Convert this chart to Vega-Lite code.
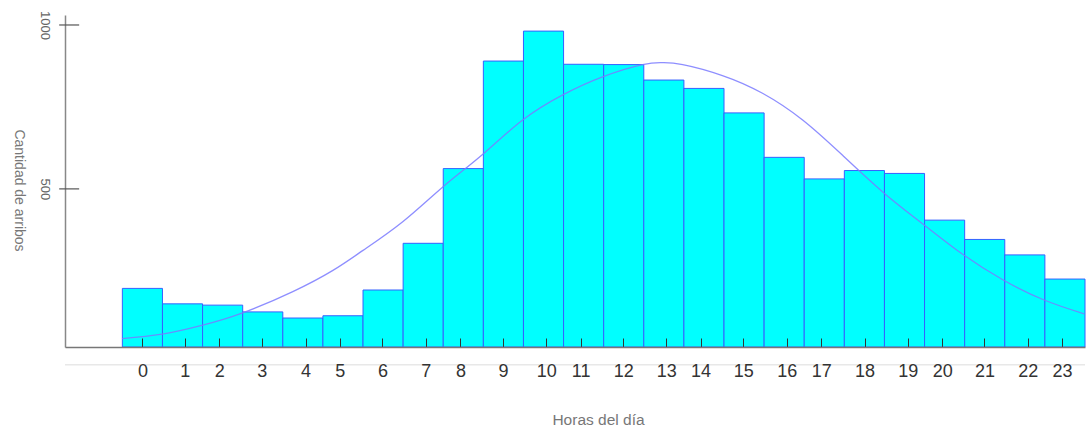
{
  "$schema": "https://vega.github.io/schema/vega-lite/v6.json",
  "width": 1020,
  "height": 332,
  "autosize": {"type": "none"},
  "padding": {"left": 65, "top": 15, "right": 4, "bottom": 81},
  "background": "white",
  "config": {"view": {"stroke": null}, "font": "Liberation Sans"},
  "datasets": {
    "barras": [
      {"hora": 0, "desde": -0.5, "hasta": 0.5, "arribos": 182},
      {"hora": 1, "desde": 0.5, "hasta": 1.5, "arribos": 134},
      {"hora": 2, "desde": 1.5, "hasta": 2.5, "arribos": 130},
      {"hora": 3, "desde": 2.5, "hasta": 3.5, "arribos": 109},
      {"hora": 4, "desde": 3.5, "hasta": 4.5, "arribos": 90},
      {"hora": 5, "desde": 4.5, "hasta": 5.5, "arribos": 97},
      {"hora": 6, "desde": 5.5, "hasta": 6.5, "arribos": 177},
      {"hora": 7, "desde": 6.5, "hasta": 7.5, "arribos": 322},
      {"hora": 8, "desde": 7.5, "hasta": 8.5, "arribos": 554},
      {"hora": 9, "desde": 8.5, "hasta": 9.5, "arribos": 888},
      {"hora": 10, "desde": 9.5, "hasta": 10.5, "arribos": 981},
      {"hora": 11, "desde": 10.5, "hasta": 11.5, "arribos": 878},
      {"hora": 12, "desde": 11.5, "hasta": 12.5, "arribos": 877},
      {"hora": 13, "desde": 12.5, "hasta": 13.5, "arribos": 829},
      {"hora": 14, "desde": 13.5, "hasta": 14.5, "arribos": 803},
      {"hora": 15, "desde": 14.5, "hasta": 15.5, "arribos": 727},
      {"hora": 16, "desde": 15.5, "hasta": 16.5, "arribos": 589},
      {"hora": 17, "desde": 16.5, "hasta": 17.5, "arribos": 522},
      {"hora": 18, "desde": 17.5, "hasta": 18.5, "arribos": 548},
      {"hora": 19, "desde": 18.5, "hasta": 19.5, "arribos": 539},
      {"hora": 20, "desde": 19.5, "hasta": 20.5, "arribos": 394},
      {"hora": 21, "desde": 20.5, "hasta": 21.5, "arribos": 334},
      {"hora": 22, "desde": 21.5, "hasta": 22.5, "arribos": 286},
      {"hora": 23, "desde": 22.5, "hasta": 23.5, "arribos": 211}
    ],
    "curva": [
      {"hora": -0.51, "valor": 26},
      {"hora": 0.49, "valor": 40},
      {"hora": 1.48, "valor": 67},
      {"hora": 2.5, "valor": 106},
      {"hora": 3.75, "valor": 172},
      {"hora": 4.75, "valor": 238},
      {"hora": 5.5, "valor": 300},
      {"hora": 6.49, "valor": 389},
      {"hora": 7.49, "valor": 497},
      {"hora": 8.48, "valor": 598},
      {"hora": 9.48, "valor": 705},
      {"hora": 10.48, "valor": 783},
      {"hora": 11.47, "valor": 839},
      {"hora": 12.47, "valor": 877},
      {"hora": 12.97, "valor": 883},
      {"hora": 13.47, "valor": 877},
      {"hora": 14.46, "valor": 843},
      {"hora": 15.46, "valor": 788},
      {"hora": 16.46, "valor": 705},
      {"hora": 17.45, "valor": 596},
      {"hora": 18.5, "valor": 477},
      {"hora": 19.49, "valor": 379},
      {"hora": 20.46, "valor": 287},
      {"hora": 21.46, "valor": 208},
      {"hora": 22.48, "valor": 146},
      {"hora": 23.48, "valor": 103}
    ],
    "marcas": [
      {"etiqueta": "500", "pos": 491},
      {"etiqueta": "1000", "pos": 1000}
    ]
  },
  "layer": [
    {
      "data": {"values": [{}]},
      "mark": {"type": "rule", "stroke": "#e8e8e8", "strokeWidth": 1.5},
      "encoding": {"y": {"datum": -55, "type": "quantitative"}}
    },
    {
      "data": {"name": "barras"},
      "mark": {"type": "bar", "fill": "#00ffff", "stroke": "#3560ff", "strokeWidth": 1},
      "encoding": {
        "x": {
          "field": "desde",
          "type": "quantitative",
          "scale": {"domain": [-1.93, 23.5], "nice": false, "zero": false},
          "axis": {
            "title": "Horas del día",
            "zindex": 2,
            "values": [0, 1.058, 1.913, 2.977, 4.066, 4.92, 5.984, 7.063, 7.928, 8.99, 10.071, 10.926, 11.99, 13.061, 13.916, 14.98, 16.066, 16.924, 18.003, 19.082, 19.939, 20.993, 22.072, 22.929],
            "labelExpr": "'' + round(datum.value)",
            "grid": false,
            "ticks": true,
            "domainColor": "#777777",
            "domainWidth": 1.5,
            "tickColor": "#333333",
            "tickSize": -9,
            "tickWidth": 1,
            "labelFontSize": 18,
            "labelColor": "#333333",
            "labelPadding": 24,
            "labelBaseline": "top",
            "labelAlign": "center",
            "labelFlush": false,
            "labelOverlap": false,
            "titleFontSize": 15.5,
            "titleFontWeight": "normal",
            "titleColor": "#777777",
            "titleX": 533,
            "titleY": 77,
            "titleAlign": "center",
            "titleBaseline": "alphabetic"
          }
        },
        "x2": {"field": "hasta"},
        "y": {
          "field": "arribos",
          "type": "quantitative",
          "scale": {"domain": [0, 1031], "nice": false},
          "axis": {
            "title": "Cantidad de arribos",
            "values": [491, 1000],
            "labelExpr": "datum.value > 700 ? '1000' : '500'",
            "grid": false,
            "ticks": false,
            "domainColor": "#888888",
            "domainWidth": 1.5,
            "labelAngle": 90,
            "labelAlign": "center",
            "labelBaseline": "top",
            "labelPadding": 15,
            "labelFontSize": 13,
            "labelColor": "#666666",
            "titleAngle": 90,
            "titleX": -47,
            "titleY": 175,
            "titleAlign": "center",
            "titleBaseline": "middle",
            "titleFontSize": 14,
            "titleFontWeight": "normal",
            "titleColor": "#777777"
          }
        },
        "y2": {"datum": 0}
      }
    },
    {
      "data": {"name": "curva"},
      "mark": {"type": "line", "stroke": "#7a7aff", "strokeWidth": 1.3, "interpolate": "natural", "opacity": 0.85},
      "encoding": {
        "x": {"field": "hora", "type": "quantitative"},
        "y": {"field": "valor", "type": "quantitative"}
      }
    },
    {
      "data": {"name": "marcas"},
      "mark": {"type": "rule", "stroke": "#555555", "strokeWidth": 1.2},
      "encoding": {
        "y": {"field": "pos", "type": "quantitative"},
        "x": {"datum": -2.075, "type": "quantitative"},
        "x2": {"datum": -1.577}
      }
    }
  ]
}
